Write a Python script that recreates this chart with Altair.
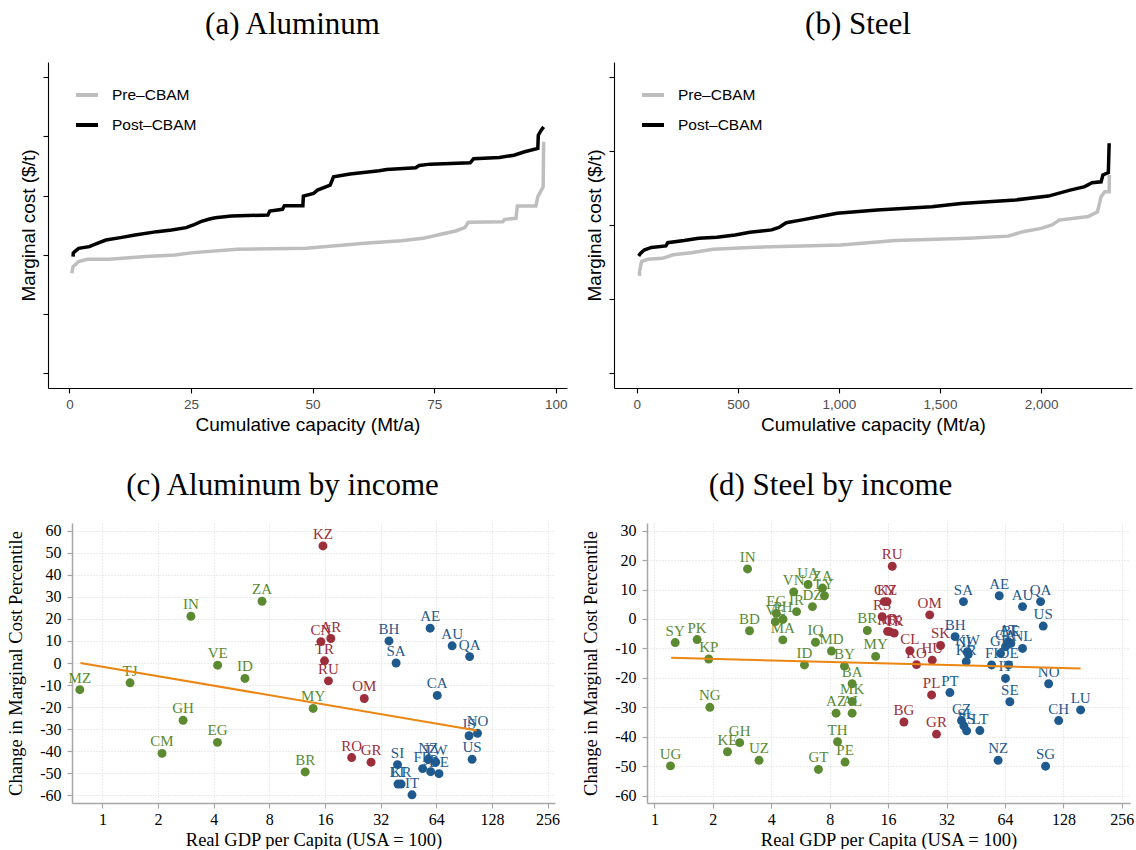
import altair as alt
import pandas as pd

SERIF = "Liberation Serif"
SANS = "Liberation Sans"

# ---------------- merit-order curves: cumulative capacity vs marginal cost ----------------
alu_pre_cap = [0.5, 0.75, 1.9, 3.7, 8.2, 15.7, 21.7, 25.5, 34.5, 48.7, 60.7, 68.2, 72.7,
               75.7, 79.4, 81.3, 82.0, 89.1, 89.5, 91.8, 92.1, 95.9, 96.3, 97.4, 97.5]
alu_pre_mc = [1689, 1801, 1886, 1925, 1925, 1970, 1998, 2037, 2093, 2110, 2194, 2239, 2278,
              2335, 2402, 2458, 2548, 2559, 2598, 2615, 2823, 2823, 2980, 3148, 3906]
alu_post_cap = [0.75, 0.8, 1.1, 1.9, 4.1, 5.2, 7.5, 10.5, 13.5, 18, 21, 24, 25.5, 27, 28.8,
                30, 33.3, 40.8, 41.2, 43.8, 44.2, 48, 48.1, 50.2, 51, 53.6, 54.3, 57.7, 63.7,
                65.2, 71.2, 71.9, 74.2, 82.4, 83.1, 88.4, 91.4, 93.6, 96.3, 96.4, 97, 97.5]
alu_post_mc = [1970, 2030, 2054, 2110, 2138, 2177, 2250, 2290, 2335, 2391, 2419, 2458, 2503,
               2559, 2604, 2626, 2654, 2671, 2739, 2767, 2828, 2828, 2991, 3036, 3092, 3176,
               3317, 3362, 3418, 3440, 3468, 3507, 3530, 3552, 3620, 3642, 3681, 3738, 3794,
               4018, 4102, 4158]

stl_pre_cap = [13, 14, 23, 54, 126, 180, 270, 378, 559, 1009, 1279, 1640, 1838, 1910, 2000,
               2054, 2090, 2234, 2279, 2297, 2315, 2337, 2338]
stl_pre_mc = [329, 345, 377, 385, 388, 400, 407, 419, 425, 433, 448, 456, 463, 478, 489,
              501, 517, 529, 545, 596, 613, 613, 669]
stl_post_cap = [9, 18, 36, 72, 144, 153, 234, 306, 396, 486, 559, 667, 703, 739, 811, 919,
                991, 1189, 1459, 1604, 1874, 2036, 2144, 2216, 2252, 2297, 2306, 2333, 2337]
stl_post_mc = [396, 405, 416, 425, 430, 441, 448, 456, 459, 467, 476, 484, 492, 508, 517,
               531, 540, 551, 562, 573, 585, 598, 618, 630, 643, 646, 669, 677, 776]

series_names = ["Pre–CBAM", "Post–CBAM"]
series_colors = ["#bebebe", "#000000"]

# ---------------- change in marginal-cost percentile vs income ----------------
alu_iso = ["MZ", "TJ", "IN", "ZA", "VE", "ID", "GH", "EG", "CM", "MY", "BR",
           "KZ", "CN", "AR", "TR", "RU", "OM", "RO", "GR",
           "BH", "SA", "AE", "AU", "QA", "CA", "IS", "NO", "US", "SI", "LT", "KR",
           "IT", "FR", "NZ", "TW", "JP", "DE"]
alu_gdp = [0.754, 1.41, 3.01, 7.3, 4.2, 5.9, 2.73, 4.19, 2.1, 13.8, 12.5,
           15.6, 15.2, 17.2, 15.9, 16.7, 26.1, 22.3, 28.4,
           35.5, 38.8, 59.3, 78.0, 97.0, 64.8, 96.3, 107.0, 100.0, 39.5, 39.7, 41.3,
           47.3, 54.0, 57.9, 63.5, 59.7, 66.2]
alu_dmc = [-12.1, -9.0, 21.2, 28.0, -1.0, -7.0, -26.0, -36.0, -41.0, -20.6, -49.4,
           53.1, 9.7, 11.1, 1.0, -8.1, -16.1, -42.9, -45.0,
           10.0, 0.0, 15.8, 7.8, 2.9, -14.7, -33.0, -31.9, -43.7, -46.1, -54.9, -54.9,
           -59.8, -47.9, -43.8, -45.0, -49.3, -50.2]
alu_grp = ["low"] * 11 + ["mid"] * 8 + ["high"] * 18
alu_fit_gdp = [0.76, 106.0]
alu_fit_dmc = [0.0, -30.6]

stl_iso = ["IN", "SY", "PK", "KP", "BD", "NG", "UG", "KE", "GH", "UZ", "EG", "VE", "PH",
           "IR", "VN", "UA", "ZA", "LY", "DZ", "MA", "IQ", "MD", "ID", "BY", "BA", "MK",
           "AZ", "AL", "TH", "PE", "GT", "BR", "MY",
           "RU", "CN", "KZ", "RS", "AR", "MX", "TR", "OM", "CL", "HU", "RO", "SK", "PL",
           "BG", "GR",
           "SA", "AE", "AU", "QA", "US", "BH", "KW", "IL", "KR", "FI", "DE", "IT", "GB",
           "CA", "AT", "BE", "NL", "PT", "SE", "NO", "LU", "CH", "SG", "NZ", "CZ", "SI",
           "ES", "LT"]
stl_gdp = [3.02, 1.28, 1.66, 1.905, 3.09, 1.93, 1.21, 2.38, 2.75, 3.46, 4.25, 4.2, 4.6,
           5.4, 5.22, 6.19, 7.35, 7.52, 6.52, 4.59, 6.76, 8.17, 5.93, 9.53, 10.44, 10.44,
           8.63, 10.44, 8.78, 9.6, 7.0, 12.5, 13.8,
           16.8, 15.3, 15.8, 14.9, 15.9, 16.3, 17.2, 26.2, 20.7, 27.0, 22.4, 29.8, 26.8,
           19.3, 28.4,
           39.1, 59.8, 78.8, 97.6, 100.7, 35.4, 41.0, 41.4, 40.4, 54.6, 66.8, 64.4, 60.7,
           64.4, 66.5, 68.6, 78.8, 33.3, 67.8, 107.4, 157.0, 121.0, 103.6, 59.0, 38.2, 39.3,
           40.6, 47.5]
stl_dmc = [17.0, -8.0, -7.0, -13.6, -4.0, -30.0, -49.9, -45.1, -42.0, -48.0, 1.9, -0.9, -0.1,
           2.5, 9.2, 11.7, 10.5, 7.9, 4.2, -7.1, -7.9, -10.9, -15.6, -16.0, -22.0, -28.0,
           -32.0, -32.0, -41.7, -48.6, -51.1, -3.9, -12.7,
           17.9, 5.9, 5.9, 0.8, -4.2, -4.3, -4.8, 1.4, -10.8, -14.0, -15.5, -9.0, -25.8,
           -35.0, -39.1,
           5.9, 7.9, 4.2, 5.9, -2.4, -6.0, -11.1, -12.0, -14.5, -15.6, -15.6, -20.2, -11.7,
           -9.4, -7.7, -8.3, -10.0, -25.0, -28.1, -22.0, -30.9, -34.5, -50.0, -48.0, -34.5,
           -36.3, -38.0, -37.9]
stl_grp = ["low"] * 33 + ["mid"] * 15 + ["high"] * 28
stl_fit_gdp = [1.22, 157.0]
stl_fit_dmc = [-13.2, -16.8]

group_colors = {"low": "#5b8a31", "mid": "#9c2f3b", "high": "#1f5a8e"}
FIT_COLOR = "#eb8612"


def panel_title(text, dx):
    return alt.Title(text, font=SERIF, fontSize=31, fontWeight="normal", color="black",
                     anchor="middle", frame="group", dx=dx, offset=21)


def supply_panel(title, dx, pre_cap, pre_mc, post_cap, post_mc,
                 xdom, xticks, ydom, yticks, width, height):
    rows = []
    for name, caps, mcs in ((series_names[0], pre_cap, pre_mc),
                            (series_names[1], post_cap, post_mc)):
        for i, (c, m) in enumerate(zip(caps, mcs)):
            rows.append({"cap": c, "mc": m, "series": name, "i": i})
    df = pd.DataFrame(rows)
    axis_common = dict(domainColor="black", domainWidth=1.1, tickColor="black",
                       tickWidth=1.1, tickSize=5, grid=False, labelColor="#4d4d4d",
                       labelFont=SANS, labelFontSize=13.5, titleFont=SANS,
                       titleFontSize=19, titleFontWeight="normal", titleColor="black")
    return alt.Chart(df, title=panel_title(title, dx)).mark_line(
        strokeWidth=3.5, strokeJoin="miter"
    ).encode(
        x=alt.X("cap:Q", scale=alt.Scale(domain=xdom, nice=False, zero=False),
                axis=alt.Axis(values=xticks, format=",d", labelPadding=4, titlePadding=5,
                              title="Cumulative capacity (Mt/a)", **axis_common)),
        y=alt.Y("mc:Q", scale=alt.Scale(domain=ydom, nice=False, zero=False),
                axis=alt.Axis(values=yticks, labels=False, titlePadding=4,
                              title="Marginal cost ($/t)", **axis_common)),
        color=alt.Color("series:N",
                        scale=alt.Scale(domain=series_names, range=series_colors),
                        legend=alt.Legend(orient="none", legendX=26, legendY=20, title=None,
                                          symbolType="stroke", symbolSize=484,
                                          symbolStrokeWidth=4, labelFont=SANS,
                                          labelFontSize=15.5, labelColor="black",
                                          labelOffset=12, rowPadding=8, padding=0)),
        order="i:Q",
    ).properties(width=width, height=height)


def income_panel(title, dx, iso, gdp, dmc, grp, fit_x, fit_y, xdom, ydom, yticks,
                 width, height):
    df = pd.DataFrame({"iso": iso, "gdp": gdp, "dmc": dmc,
                       "col": [group_colors[g] for g in grp]})
    fit = pd.DataFrame({"gdp": fit_x, "dmc": fit_y})
    axis_common = dict(domainColor="#a6a6a6", domainWidth=1.5, tickColor="#a6a6a6",
                       tickWidth=1.2, tickSize=5, grid=True, gridColor="#d9d9d9",
                       gridDash=[1, 2], gridWidth=1, labelColor="black", labelFont=SERIF,
                       labelFontSize=16, titleFont=SERIF, titleFontSize=18.5,
                       titleFontWeight="normal", titleColor="black",
                       labelExpr="'' + datum.value")
    x = alt.X("gdp:Q", scale=alt.Scale(type="log", base=2, domain=xdom, nice=False),
              axis=alt.Axis(values=[1, 2, 4, 8, 16, 32, 64, 128, 256], labelPadding=3,
                            titlePadding=3, title="Real GDP per Capita (USA = 100)",
                            **axis_common))
    y = alt.Y("dmc:Q", scale=alt.Scale(domain=ydom, nice=False, zero=False),
              axis=alt.Axis(values=yticks, labelPadding=6, titlePadding=14,
                            title="Change in Marginal Cost Percentile", **axis_common))
    base = alt.Chart(df)
    pts = base.mark_circle(size=80, opacity=1).encode(
        x=x, y=y, color=alt.Color("col:N", scale=None))
    labels = base.mark_text(font=SERIF, fontSize=15, dy=-12, baseline="middle",
                            align="center").encode(
        x=x, y=y, text="iso:N", color=alt.Color("col:N", scale=None))
    line = alt.Chart(fit).mark_line(color=FIT_COLOR, strokeWidth=2).encode(x=x, y=y)
    return alt.layer(pts, labels, line, title=panel_title(title, dx)).properties(
        width=width, height=height)


def spacer(w, h):
    return alt.Chart(pd.DataFrame({"v": [0]})).mark_point(opacity=0).encode(
        x=alt.X("v:Q", axis=None), y=alt.Y("v:Q", axis=None)
    ).properties(width=w, height=h)


pa = supply_panel("(a) Aluminum", -15, alu_pre_cap, alu_pre_mc, alu_post_cap, alu_post_mc,
                  [-4.4, 102.3], [0, 25, 50, 75, 100], [-247, 5253],
                  [0, 1000, 2000, 3000, 4000, 5000], 519, 326)
pb = supply_panel("(b) Steel", -15, stl_pre_cap, stl_pre_mc, stl_post_cap, stl_post_mc,
                  [-113, 2450], [0, 500, 1000, 1500, 2000], [-49, 1050],
                  [0, 250, 500, 750, 1000], 518, 326)
pc = income_panel("(c) Aluminum by income", -31, alu_iso, alu_gdp, alu_dmc, alu_grp,
                  alu_fit_gdp, alu_fit_dmc, [0.684, 281], [-63.5, 63.5],
                  list(range(-60, 61, 10)), 483, 280)
pdn = income_panel("(d) Steel by income", -58, stl_iso, stl_gdp, stl_dmc, stl_grp,
                   stl_fit_gdp, stl_fit_dmc, [0.916, 282], [-62.5, 32.6],
                   list(range(-60, 31, 10)), 483, 280)

# each row starts with a blank cell so that the plot areas sit at fixed offsets
row1 = alt.hconcat(spacer(48, 326), pa, spacer(47, 326), pb, spacing=0,
                   bounds="flush").resolve_scale(color="independent").resolve_legend(
    color="independent")
row2 = alt.hconcat(spacer(72, 280), pc, spacer(92, 280), pdn, spacing=0, bounds="flush")

chart = alt.vconcat(row1, row2, spacing=34).resolve_scale(color="independent").properties(
    padding={"left": 0, "top": 9, "right": 0, "bottom": 0},
    background="white",
).configure_view(stroke=None)

chart.save("out.html", embed_options={"renderer": "svg", "actions": False})
